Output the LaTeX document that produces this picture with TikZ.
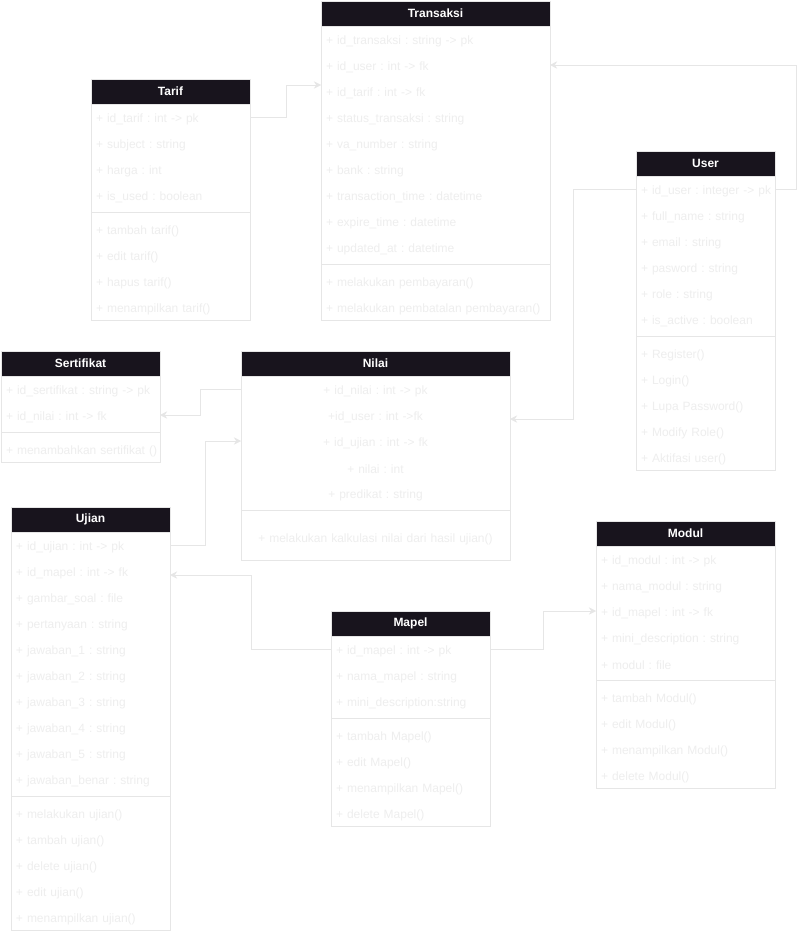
\documentclass[tikz,border=0pt]{standalone}
\usepackage{fontspec}
\setmainfont{Liberation Sans}
\usetikzlibrary{arrows.meta}
\frenchspacing
\definecolor{umlhead}{HTML}{18141D}
\definecolor{umltext}{HTML}{EEEEEE}
\definecolor{umlgray}{HTML}{E6E6E6}
\def\umlfont{\fontsize{12}{14}\selectfont}
\def\umlcell#1{\raisebox{-2pt}[\height][\depth]{#1}}
\tikzset{
	umlhead/.style={draw=umlgray, fill=umlhead, text=white, font=\umlfont\bfseries, anchor=north west, minimum height=25, inner sep=0, outer sep=0},
	umlrow/.style={anchor=north west, minimum height=26, inner xsep=5, inner ysep=0, outer sep=0, text width=#1, align=left, text=umltext, font=\umlfont},
	umlline/.style={draw=umlgray},
	umlarrow/.style={draw=umlgray, -{Stealth[length=7pt,width=7pt]}}
}
\begin{document}
\begin{tikzpicture}[x=1pt, y=-1pt]
			%%%%% START %%%%%
			\fill[white] (0,0) rectangle (804,934);
			\useasboundingbox (0,0) rectangle (804,934);
			
			% Transaksi
			\node[umlhead, minimum width=229] (transaksi) at (321,1) {Transaksi};
			\foreach \t [count=\i] in {+ id\_transaksi : string -> pk, + id\_user : int -> fk, + id\_tarif : int -> fk, + status\_transaksi : string, + va\_number : string, + bank : string, + transaction\_time : datetime, + expire\_time : datetime, + updated\_at : datetime}
				\node[umlrow=219pt] (transaksi-r\i) at (321,{26+26*(\i-1)}) {\umlcell{\t}};
			\draw[umlline] (321,264) -- (550,264);
			\foreach \t [count=\i] in {+ melakukan pembayaran(), + melakukan pembatalan pembayaran()}
				\node[umlrow=219pt] (transaksi-m\i) at (321,{268+26*(\i-1)}) {\umlcell{\t}};
			\draw[umlline] (transaksi.north west) rectangle (550,320);
			
			% Tarif
			\node[umlhead, minimum width=159] (tarif) at (91,79) {Tarif};
			\foreach \t [count=\i] in {+ id\_tarif : int -> pk, + subject : string, + harga : int, + is\_used : boolean}
				\node[umlrow=149pt] (tarif-r\i) at (91,{104+26*(\i-1)}) {\umlcell{\t}};
			\draw[umlline] (91,212) -- (250,212);
			\foreach \t [count=\i] in {+ tambah tarif(), + edit tarif(), + hapus tarif(), + menampilkan tarif()}
				\node[umlrow=149pt] (tarif-m\i) at (91,{216+26*(\i-1)}) {\umlcell{\t}};
			\draw[umlline] (tarif.north west) rectangle (250,320);
			
			% User
			\node[umlhead, minimum width=139] (user) at (636,151) {User};
			\foreach \t [count=\i] in {+ id\_user : integer -> pk, + full\_name : string, + email : string, + pasword : string, + role : string, + is\_active : boolean}
				\node[umlrow=129pt] (user-r\i) at (636,{176+26*(\i-1)}) {\umlcell{\t}};
			\draw[umlline] (636,336) -- (775,336);
			\foreach \t [count=\i] in {+ Register(), + Login(), + Lupa Password(), + Modify Role(), + Aktifasi user()}
				\node[umlrow=129pt] (user-m\i) at (636,{340+26*(\i-1)}) {\umlcell{\t}};
			\draw[umlline] (user.north west) rectangle (775,470);
			
			% Sertifikat
			\node[umlhead, minimum width=159] (sertifikat) at (1,351) {Sertifikat};
			\foreach \t [count=\i] in {+ id\_sertifikat : string -> pk, + id\_nilai : int -> fk}
				\node[umlrow=149pt] (sertifikat-r\i) at (1,{376+26*(\i-1)}) {\umlcell{\t}};
			\draw[umlline] (1,432) -- (160,432);
			\node[umlrow=149pt] (sertifikat-m1) at (1,436) {\umlcell{+ menambahkan sertifikat ()}};
			\draw[umlline] (sertifikat.north west) rectangle (160,462);
			
			% Nilai
			\node[umlhead, minimum width=269] (nilai) at (241,351) {Nilai};
			\foreach \t [count=\i] in {+ id\_nilai : int -> pk, +id\_user : int ->fk, + id\_ujian : int -> fk, + nilai : int, + predikat : string}
				\node[umlrow=259pt, align=center] (nilai-r\i) at (241,{376+26*(\i-1)}) {\umlcell{\t}};
			\draw[umlline] (241,510) -- (510,510);
			\node[umlrow=259pt, align=center, minimum height=46] (nilai-m1) at (241,514) {\umlcell{+ melakukan kalkulasi nilai dari hasil ujian()}};
			\draw[umlline] (nilai.north west) rectangle (510,560);
			
			% Ujian
			\node[umlhead, minimum width=159] (ujian) at (11,507) {Ujian};
			\foreach \t [count=\i] in {+ id\_ujian : int -> pk, + id\_mapel : int -> fk, + gambar\_soal : file, + pertanyaan : string, + jawaban\_1 : string, + jawaban\_2 : string, + jawaban\_3 : string, + jawaban\_4 : string, + jawaban\_5 : string, + jawaban\_benar : string}
				\node[umlrow=149pt] (ujian-r\i) at (11,{532+26*(\i-1)}) {\umlcell{\t}};
			\draw[umlline] (11,796) -- (170,796);
			\foreach \t [count=\i] in {+ melakukan ujian(), + tambah ujian(), + delete ujian(), + edit ujian(), + menampilkan ujian()}
				\node[umlrow=149pt] (ujian-m\i) at (11,{800+26*(\i-1)}) {\umlcell{\t}};
			\draw[umlline] (ujian.north west) rectangle (170,930);
			
			% Mapel
			\node[umlhead, minimum width=159] (mapel) at (331,611) {Mapel};
			\foreach \t [count=\i] in {+ id\_mapel : int -> pk, + nama\_mapel : string, + mini\_description:string}
				\node[umlrow=149pt] (mapel-r\i) at (331,{636+26*(\i-1)}) {\umlcell{\t}};
			\draw[umlline] (331,718) -- (490,718);
			\foreach \t [count=\i] in {+ tambah Mapel(), + edit Mapel(), + menampilkan Mapel(), + delete Mapel()}
				\node[umlrow=149pt] (mapel-m\i) at (331,{722+26*(\i-1)}) {\umlcell{\t}};
			\draw[umlline] (mapel.north west) rectangle (490,826);
			
			% Modul
			\node[umlhead, minimum width=179] (modul) at (596,521) {Modul};
			\foreach \t [count=\i] in {+ id\_modul : int -> pk, + nama\_modul : string, + id\_mapel : int -> fk, + mini\_description : string, + modul : file}
				\node[umlrow=169pt] (modul-r\i) at (596,{546+26*(\i-1)}) {\umlcell{\t}};
			\draw[umlline] (596,680) -- (775,680);
			\foreach \t [count=\i] in {+ tambah Modul(), + edit Modul(), + menampilkan Modul(), + delete Modul()}
				\node[umlrow=169pt] (modul-m\i) at (596,{684+26*(\i-1)}) {\umlcell{\t}};
			\draw[umlline] (modul.north west) rectangle (775,788);
			
			% relations
			\draw[umlarrow] (tarif-r1.east) -- ++(36,0) |- ([yshift=6pt]transaksi-r3.west);
			\draw[umlarrow] (user-r1.east) -- ++(21,0) |- (transaksi-r2.east);
			\draw[umlarrow] (user-r1.west) -- ++(-63,0) |- ([yshift=-4pt]nilai-r2.east);
			\draw[umlarrow] (nilai-r1.west) -- ++(-41,0) |- (sertifikat-r2.east);
			\draw[umlarrow] (ujian-r1.east) -- ++(35,0) |- (nilai-r3.west);
			\draw[umlarrow] (mapel-r1.west) -- ++(-80,0) |- ([yshift=-4pt]ujian-r2.east);
			\draw[umlarrow] (mapel-r1.east) -- ++(53,0) |- (modul-r3.west);
			
			%%%%% END %%%%%
\end{tikzpicture}
\end{document}
